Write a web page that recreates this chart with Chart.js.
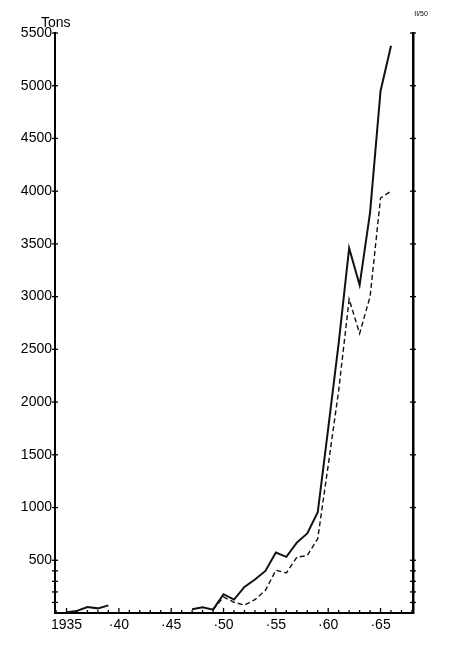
<!DOCTYPE html>
<html>
<head>
<meta charset="utf-8">
<script src="https://cdn.jsdelivr.net/npm/chart.js@4.4.1/dist/chart.umd.min.js"></script>
<style>
  html, body { margin: 0; padding: 0; background: #fff; }
  #wrap { width: 450px; height: 646px; position: relative; }
</style>
</head>
<body>
<div id="wrap"><canvas id="chart"></canvas></div>
<script>
// 年と値
const years = [1935, 1936, 1937, 1938, 1939, 1940, 1941, 1942, 1943, 1944, 1945, 1946,
  1947, 1948, 1949, 1950, 1951, 1952, 1953, 1954, 1955, 1956, 1957, 1958, 1959,
  1960, 1961, 1962, 1963, 1964, 1965, 1966];
const solidTons = [8, 20, 57, 44, 72, null, null, null, null, null, null, null,
  35, 54, 32, 178, 127, 247, 317, 399, 573, 532, 668, 754, 955,
  1750, 2560, 3460, 3110, 3800, 4950, 5380];
const dashedTons = [null, null, null, null, null, null, null, null, null, null, null, null,
  null, null, 32, 152, 102, 75, 127, 215, 405, 380, 528, 545, 705,
  1400, 2110, 2975, 2650, 3000, 3935, 4000];

// 目盛り
const yTicks = [0, 100, 200, 300, 400, 500, 1000, 1500, 2000, 2500, 3000, 3500, 4000, 4500, 5000, 5500];
const xTickYears = [];
for (let y = 1934; y <= 1968; y++) xTickYears.push(y);
const xLabels = { 1935: '1935', 1940: '·40', 1945: '·45', 1950: '·50', 1955: '·55', 1960: '·60', 1965: '·65' };

const FONT = "'Liberation Sans', Arial, sans-serif";

// 軸をまたぐ目盛り線を描くプラグイン
const crossTicks = {
  id: 'crossTicks',
  afterDraw(chart) {
    const ctx = chart.ctx;
    const area = chart.chartArea;
    ctx.save();
    ctx.strokeStyle = '#000';
    ctx.lineWidth = 1.3;
    ['y', 'y2'].forEach(id => {
      const sc = chart.scales[id];
      const x0 = id === 'y' ? area.left : area.right;
      sc.ticks.forEach(t => {
        const py = sc.getPixelForValue(t.value);
        if (t.value === 0) return;
        ctx.beginPath();
        ctx.moveTo(x0 - 3, py);
        ctx.lineTo(x0 + 3, py);
        ctx.stroke();
      });
    });
    const xs = chart.scales.x;
    xs.ticks.forEach(t => {
      const px = xs.getPixelForValue(t.value);
      const len = t.value % 5 === 0 ? 5 : 3;
      ctx.beginPath();
      ctx.moveTo(px, area.bottom);
      ctx.lineTo(px, area.bottom - len);
      ctx.stroke();
    });
    // 見出し
    ctx.fillStyle = '#000';
    ctx.font = '14px ' + FONT;
    ctx.textAlign = 'left';
    ctx.textBaseline = 'alphabetic';
    ctx.fillText('Tons', 41, 27);
    ctx.font = '7px ' + FONT;
    ctx.textAlign = 'center';
    ctx.fillText('II/50', 421, 16);
    ctx.restore();
  }
};

const ctx = document.getElementById('chart').getContext('2d');
const chart = new Chart(ctx, {
  type: 'line',
  data: {
    datasets: [{
      label: 'solid',
      data: years.map((y, i) => ({ x: y, y: solidTons[i] })),
      borderColor: '#111',
      borderWidth: 2,
      pointRadius: 0,
      tension: 0,
      spanGaps: false,
      fill: false
    }, {
      label: 'dashed',
      data: years.map((y, i) => ({ x: y, y: dashedTons[i] })),
      borderColor: '#111',
      borderWidth: 1.4,
      borderDash: [5, 3],
      pointRadius: 0,
      tension: 0,
      spanGaps: false,
      fill: false
    }]
  },
  options: {
    responsive: true,
    maintainAspectRatio: false,
    animation: false,
    layout: { padding: { top: 33, left: 0, right: 0, bottom: 0 } },
    plugins: {
      legend: { display: false },
      tooltip: { enabled: false }
    },
    scales: {
      x: {
        type: 'linear',
        min: 1933.9,
        max: 1968.1,
        afterBuildTicks: sc => { sc.ticks = xTickYears.map(v => ({ value: v })); },
        afterFit: sc => { sc.height = 33; },
        grid: { display: false, drawTicks: false },
        border: { display: true, color: '#000', width: 2 },
        ticks: {
          autoSkip: false,
          maxRotation: 0,
          padding: 4,
          color: '#000',
          font: { family: FONT, size: 14 },
          callback: v => xLabels[v] || ''
        }
      },
      y: {
        position: 'left',
        min: 0,
        max: 5500,
        afterBuildTicks: sc => { sc.ticks = yTicks.map(v => ({ value: v })); },
        afterFit: sc => { sc.width = 55; },
        grid: { display: false, drawTicks: false },
        border: { display: true, color: '#000', width: 2 },
        ticks: {
          autoSkip: false,
          padding: 3,
          color: '#000',
          font: { family: FONT, size: 14 },
          callback: v => (v > 0 && v % 500 === 0) ? String(v) : ''
        }
      },
      y2: {
        position: 'right',
        min: 0,
        max: 5500,
        afterBuildTicks: sc => { sc.ticks = yTicks.map(v => ({ value: v })); },
        afterFit: sc => { sc.width = 37; },
        grid: { display: false, drawTicks: false },
        border: { display: true, color: '#000', width: 2.5 },
        ticks: { display: false }
      }
    }
  },
  plugins: [crossTicks]
});
</script>
</body>
</html>
